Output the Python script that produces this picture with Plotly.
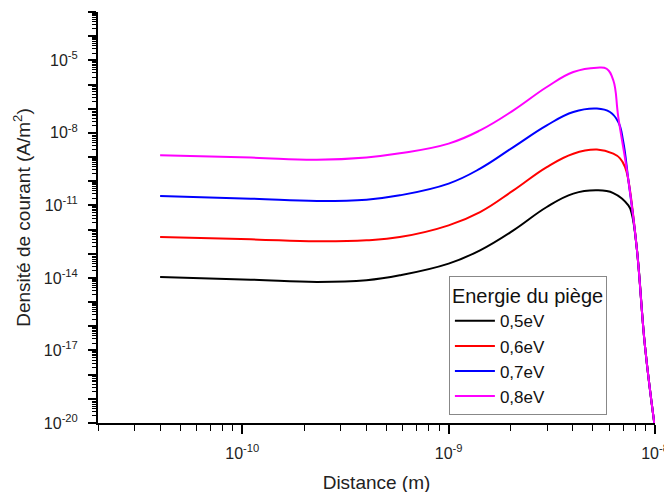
import plotly.graph_objects as go

# ---- data ----
series_names = ["0,5eV", "0,6eV", "0,7eV", "0,8eV"]
series_colors = ["#000000", "#ff0000", "#0000ff", "#ff00ff"]

x_05 = [4.0e-11, 1.1e-10, 2.3e-10, 4.0e-10, 5.8e-10, 1.0e-9, 1.42e-9, 2.06e-9, 2.99e-9,
        4.02e-9, 5.23e-9, 6.28e-9, 7.43e-9, 7.71e-9, 8.15e-9, 8.95e-9, 1.0e-8]
y_05 = [1.09e-14, 8.5e-15, 6.8e-15, 8.0e-15, 1.28e-14, 3.9e-14, 1.39e-13, 9.3e-13, 8.6e-12,
        3.07e-11, 4.2e-11, 3.25e-11, 1.0e-11, 4.6e-12, 1.9e-13, 1.4e-17, 6e-21]

x_06 = [4.0e-11, 1.1e-10, 2.3e-10, 4.0e-10, 5.8e-10, 1.0e-9, 1.42e-9, 2.06e-9, 2.99e-9,
        4.02e-9, 5.23e-9, 6.28e-9, 6.77e-9, 7.16e-9, 7.43e-9, 8.15e-9, 8.95e-9, 1.0e-8]
y_06 = [4.9e-13, 3.95e-13, 3.27e-13, 3.6e-13, 4.9e-13, 1.5e-12, 5.3e-12, 4.2e-11, 3.86e-10,
        1.38e-9, 2.03e-9, 1.38e-9, 8.85e-10, 3.86e-10, 1.1e-10, 1.9e-13, 1.4e-17, 6e-21]

x_07 = [4.0e-11, 1.1e-10, 2.3e-10, 4.0e-10, 5.8e-10, 1.0e-9, 1.42e-9, 2.06e-9, 2.99e-9,
        4.02e-9, 5.23e-9, 6.05e-9, 6.64e-9, 7.0e-9, 7.43e-9, 8.15e-9, 8.95e-9, 1.0e-8]
y_07 = [2.44e-11, 1.9e-11, 1.52e-11, 1.73e-11, 2.61e-11, 8.0e-11, 3.32e-10, 2.59e-9, 2.05e-8,
        7.3e-8, 1.01e-7, 7.3e-8, 2.8e-8, 4.9e-9, 1.1e-10, 1.9e-13, 1.4e-17, 6e-21]

x_08 = [4.0e-11, 1.1e-10, 2.3e-10, 4.0e-10, 5.8e-10, 1.0e-9, 1.42e-9, 2.06e-9, 2.99e-9,
        4.02e-9, 5.23e-9, 5.83e-9, 6.28e-9, 6.64e-9, 7.43e-9, 8.15e-9, 8.95e-9, 1.0e-8]
y_08 = [1.18e-9, 9.5e-10, 7.8e-10, 9.7e-10, 1.43e-9, 3.6e-9, 1.27e-8, 8.55e-8, 7.9e-7,
        3.3e-6, 5.0e-6, 4.5e-6, 1.5e-6, 4.5e-8, 1.1e-10, 1.9e-13, 1.4e-17, 6e-21]

xs = [x_05, x_06, x_07, x_08]
ys = [y_05, y_06, y_07, y_08]

x_tick_vals = [1e-10, 1e-9, 1e-8]
x_tick_text = ["10<sup>-10</sup>", "10<sup>-9</sup>", "10<sup>-8</sup>"]
y_label_exps = [-20, -17, -14, -11, -8, -5]

x_title = "Distance (m)"
y_title = "Densité de courant (A/m<sup>2</sup>)"
legend_title = "Energie du piège"

# ---- figure ----
fig = go.Figure()
for name, color, xv, yv in zip(series_names, series_colors, xs, ys):
    fig.add_trace(go.Scatter(x=xv, y=yv, mode="lines", name=name,
                             line=dict(color=color, width=2, shape="spline", smoothing=1.2)))

y_major = [10.0 ** e for e in range(-20, -2)]
y_text = ["10<sup>%d</sup>" % e if e in y_label_exps else "" for e in range(-20, -2)]
y_minor = [k * 10.0 ** e for e in range(-20, -3) for k in range(2, 10)]
x_minor = [k * 10.0 ** e for e in range(-11, -8) for k in range(2, 10)]

font_family = "Liberation Sans, Arial, sans-serif"

fig.update_layout(
    width=672, height=492,
    margin=dict(l=90, r=25, t=4, b=77),
    paper_bgcolor="white", plot_bgcolor="white",
    font=dict(family=font_family, color="#222", size=15),
    showlegend=True,
    legend=dict(
        x=0.630, y=0.357, xanchor="left", yanchor="top",
        bgcolor="white", bordercolor="#888", borderwidth=1,
        font=dict(size=17, color="#111"),
        title=dict(text=legend_title, font=dict(size=20, color="#111")),
        tracegroupgap=0, itemwidth=40,
        entrywidth=125, entrywidthmode="pixels",
    ),
)

fig.update_xaxes(
    type="log", range=[-10.699, -8.0], automargin=False,
    showgrid=False, zeroline=False,
    showline=True, linecolor="black", linewidth=2, mirror=False,
    tickmode="array", tickvals=x_tick_vals, ticktext=x_tick_text,
    ticks="outside", ticklen=9, tickwidth=1.5, tickcolor="black",
    tickfont=dict(size=16, color="#222"), ticklabelstandoff=6,
    minor=dict(tickmode="array", tickvals=x_minor, ticks="outside", ticklen=6,
               tickwidth=1, tickcolor="black", showgrid=False),
    title=dict(text=x_title, font=dict(size=19, color="#222"), standoff=14),
)

fig.update_yaxes(
    type="log", range=[-20, -3], automargin=False,
    showgrid=False, zeroline=False,
    showline=True, linecolor="black", linewidth=2, mirror=False,
    tickmode="array", tickvals=y_major, ticktext=y_text,
    ticks="outside", ticklen=8, tickwidth=1.5, tickcolor="black",
    tickfont=dict(size=16, color="#222"), ticklabelstandoff=7,
    minor=dict(tickmode="array", tickvals=y_minor, ticks="outside", ticklen=4,
               tickwidth=1, tickcolor="black", showgrid=False),
    title=dict(text=y_title, font=dict(size=19, color="#222"), standoff=8),
)

fig.write_html("out.html")
